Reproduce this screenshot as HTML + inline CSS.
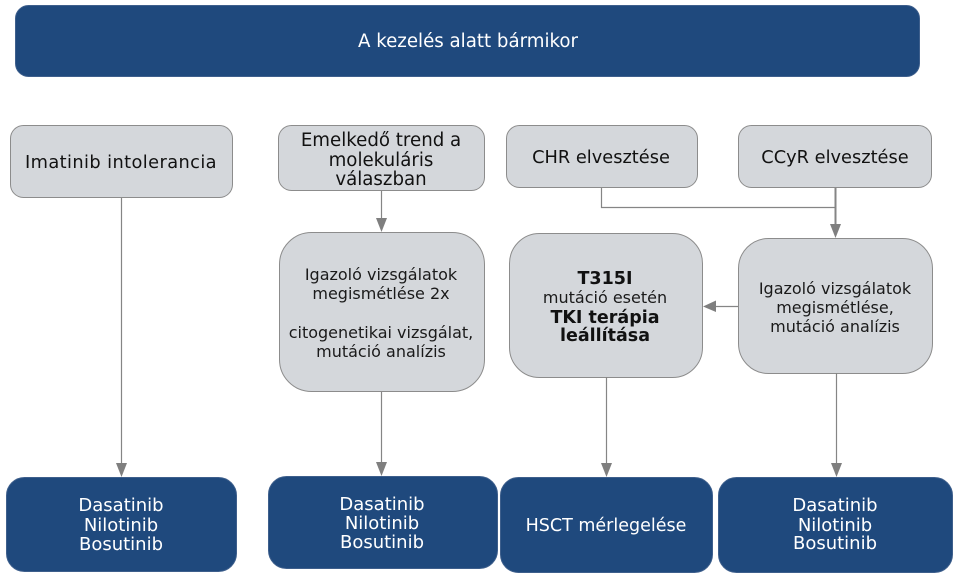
<!DOCTYPE html>
<html>
<head>
<meta charset="utf-8">
<style>
html,body{margin:0;padding:0;background:#fff;}
svg{display:block;}
text{font-family:"DejaVu Sans","Liberation Sans",sans-serif;}
.t{font-size:17.8px;fill:#111;text-anchor:middle;}
.m{font-size:16px;fill:#1a1a1a;text-anchor:middle;}
.b{font-size:17.5px;fill:#111;text-anchor:middle;font-weight:bold;}
.w{font-size:17.5px;fill:#fff;text-anchor:middle;}
.g{fill:#d4d7db;stroke:#8c8c8c;stroke-width:1;}
.d{fill:#1f497d;stroke:#3e5f8c;stroke-width:1;}
.l{stroke:#858585;stroke-width:1.2;fill:none;}
.a{fill:#7f7f7f;}
</style>
</head>
<body>
<svg width="968" height="578" viewBox="0 0 968 578" xmlns="http://www.w3.org/2000/svg">
<!-- title -->
<rect x="15.5" y="5.5" width="904" height="71" rx="13" class="d"/>
<text x="468" y="47" class="w" style="font-size:18.2px">A kezelés alatt bármikor</text>

<!-- top row -->
<rect x="10.5" y="125.5" width="222" height="72" rx="13" class="g"/>
<text x="121" y="168" class="t" style="letter-spacing:0.4px">Imatinib intolerancia</text>

<rect x="278.5" y="125.5" width="206" height="65" rx="13" class="g"/>
<text x="381" y="146" class="t" style="font-size:18.2px">Emelkedő trend a</text>
<text x="381" y="166" class="t" style="font-size:18.2px">molekuláris</text>
<text x="381" y="185" class="t" style="font-size:18.2px">válaszban</text>

<rect x="506.5" y="125.5" width="191" height="62" rx="13" class="g"/>
<text x="601" y="163" class="t">CHR elvesztése</text>

<rect x="738.5" y="125.5" width="193" height="62" rx="13" class="g"/>
<text x="835" y="163" class="t">CCyR elvesztése</text>

<!-- middle row -->
<rect x="279.5" y="232.5" width="205" height="159" rx="32" class="g"/>
<text x="381" y="280" class="m">Igazoló vizsgálatok</text>
<text x="381" y="299" class="m">megismétlése 2x</text>
<text x="381" y="338" class="m">citogenetikai vizsgálat,</text>
<text x="381" y="357" class="m">mutáció analízis</text>

<rect x="509.5" y="233.5" width="193" height="144" rx="30" class="g"/>
<text x="605" y="284" class="b">T315I</text>
<text x="605" y="303" class="m">mutáció esetén</text>
<text x="605" y="323" class="b">TKI terápia</text>
<text x="605" y="341" class="b">leállítása</text>

<rect x="738.5" y="238.5" width="194" height="135" rx="30" class="g"/>
<text x="835" y="294" class="m">Igazoló vizsgálatok</text>
<text x="835" y="313" class="m">megismétlése,</text>
<text x="835" y="332" class="m">mutáció analízis</text>

<!-- bottom row -->
<rect x="6.5" y="477.5" width="230" height="94" rx="18" class="d"/>
<text x="121" y="511" class="w" style="font-size:18px">Dasatinib</text>
<text x="121" y="531" class="w" style="font-size:18px">Nilotinib</text>
<text x="121" y="550" class="w" style="font-size:18px">Bosutinib</text>

<rect x="268.5" y="476.5" width="229" height="92" rx="18" class="d"/>
<text x="382" y="510" class="w" style="font-size:18px">Dasatinib</text>
<text x="382" y="529" class="w" style="font-size:18px">Nilotinib</text>
<text x="382" y="548" class="w" style="font-size:18px">Bosutinib</text>

<rect x="500.5" y="477.5" width="212" height="95" rx="18" class="d"/>
<text x="606" y="531" class="w">HSCT mérlegelése</text>

<rect x="718.5" y="477.5" width="234" height="95" rx="18" class="d"/>
<text x="835" y="511" class="w" style="font-size:18px">Dasatinib</text>
<text x="835" y="531" class="w" style="font-size:18px">Nilotinib</text>
<text x="835" y="549" class="w" style="font-size:18px">Bosutinib</text>

<!-- connectors -->
<line x1="121.5" y1="198" x2="121.5" y2="464" class="l"/>
<polygon points="116,463 127,463 121.5,477" class="a"/>

<line x1="381.5" y1="191" x2="381.5" y2="219" class="l"/>
<polygon points="376,218 387,218 381.5,232" class="a"/>

<line x1="381.5" y1="392" x2="381.5" y2="463" class="l"/>
<polygon points="376,462 387,462 381.5,476" class="a"/>

<polyline points="601.5,188 601.5,207.5 835,207.5" class="l"/>
<line x1="835.5" y1="188" x2="835.5" y2="226" stroke="#858585" stroke-width="2"/>
<polygon points="830,224 841,224 835.5,238" class="a"/>

<line x1="738" y1="306.5" x2="714" y2="306.5" class="l"/>
<polygon points="716,300.5 716,312 703,306.5" class="a"/>

<line x1="606.5" y1="377" x2="606.5" y2="464" class="l"/>
<polygon points="601,463 612,463 606.5,477" class="a"/>

<line x1="836.5" y1="373" x2="836.5" y2="464" class="l"/>
<polygon points="831,463 842,463 836.5,477" class="a"/>
</svg>
</body>
</html>
